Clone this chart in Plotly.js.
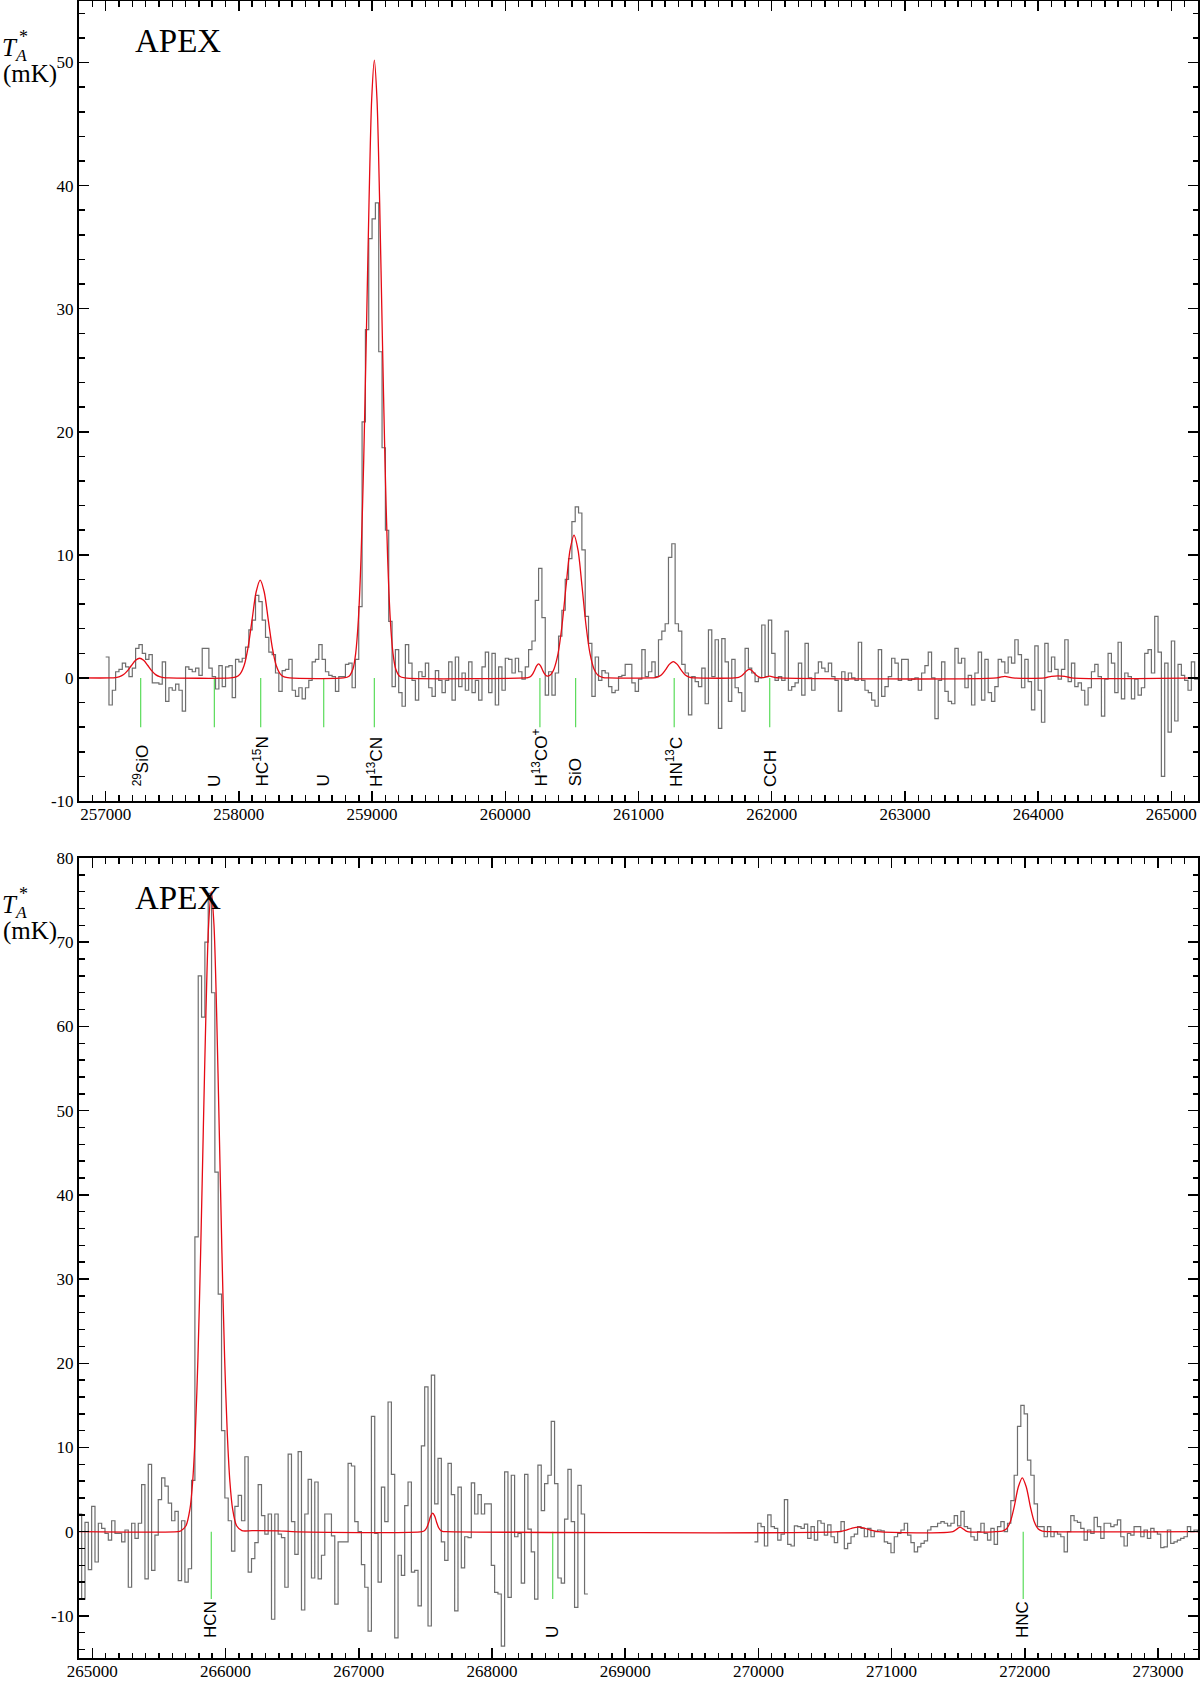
<!DOCTYPE html>
<html><head><meta charset="utf-8">
<script src="https://cdn.plot.ly/plotly-3.0.1.min.js"></script>
<style>body{margin:0;background:#fff}#chart{width:1200px;height:1682px}</style>
</head><body><div id="chart"></div>
<script>
// ---------------- DATA ----------------
const chanWidth = 25; // MHz per channel
// Upper panel spectrum (257000 - 265200 MHz)
const topStart = 257000;
const topValues = [
 1.7,-2.2,-1.0,0.5,0.7,1.2,0.9,0.1,0.8,2.4,
 2.7,2.0,1.5,1.9,-0.4,-0.4,-0.5,1.3,-1.9,-0.8,
 -1.0,-0.5,-1.0,-2.7,0.9,0.7,0.5,0.8,0.2,2.4,
 2.4,0.8,0.1,-0.9,1.0,-0.7,0.9,1.0,-1.6,1.5,
 1.3,1.6,2.5,3.9,4.7,6.7,6.2,4.7,3.3,2.1,
 1.9,0.4,-1.1,0.6,0.7,1.5,-1.0,-1.5,-0.8,-1.7,
 -0.8,-0.2,1.3,1.5,2.7,1.5,0.5,0.2,0.1,-1.1,
 0.1,0.1,1.1,1.2,-0.8,1.5,5.8,20.8,28.3,35.7,
 37.3,38.6,26.5,18.7,12.0,4.6,-0.7,2.3,-1.2,-2.3,
 2.7,1.2,-0.2,-1.8,0.5,0.1,1.2,-0.8,-1.5,0.6,
 -0.2,-1.2,-0.2,1.3,-1.8,1.7,-0.7,0.4,-1.0,1.3,
 -1.2,-0.2,-1.8,0.9,2.1,-1.2,2.0,-2.2,0.9,-1.0,
 1.6,1.5,0.4,1.6,0.5,-0.1,0.9,2.3,3.0,6.3,
 8.9,4.9,-1.4,0.5,-1.4,0.4,3.4,5.5,8.0,9.7,
 12.7,13.9,13.4,10.4,5.0,2.8,-1.5,1.7,-0.2,0.6,
 0.4,-0.7,-1.2,-1.0,0.1,0.2,1.1,1.1,-0.4,-1.1,
 -0.1,2.3,0.1,0.5,1.3,0.1,3.1,3.8,4.4,9.8,
 10.9,4.4,3.8,1.1,0.4,-3.0,0.1,-0.3,-0.7,0.8,
 -2.1,3.9,0.1,3.1,-4.1,3.2,1.3,-1.9,1.5,-0.8,
 -1.2,-2.7,2.4,0.8,0.4,-0.3,0.0,4.3,0.1,4.7,
 2.0,-0.2,0.1,-0.2,3.8,-1.0,-0.7,-0.4,1.2,-1.4,
 2.8,0.0,-1.0,0.4,1.3,0.8,0.5,1.2,0.1,-0.2,
 -2.7,0.5,-0.2,0.4,0.0,-0.2,2.9,-0.2,-1.0,-1.2,
 -1.8,-2.3,2.3,-1.5,-0.7,0.1,1.6,1.2,-0.2,1.5,
 1.5,-0.2,-0.1,0.0,-1.0,0.4,1.0,2.1,0.0,-3.3,
 -0.2,1.3,-1.1,-1.9,-2.1,2.4,1.2,1.6,-0.8,0.2,
 -2.2,0.4,2.1,-1.8,1.5,-1.2,-1.9,-0.7,1.5,1.3,
 0.4,1.7,1.2,3.1,1.9,-0.8,1.5,-0.3,-2.6,2.6,
 -1.0,-3.6,2.8,0.5,1.7,0.7,-0.1,0.7,3.1,-0.3,
 1.2,-0.7,-0.4,-1.0,-2.2,-0.8,0.5,1.1,0.1,-3.1,
 -0.1,2.0,1.2,-1.2,2.9,-1.7,0.4,0.1,-1.7,-0.1,
 -1.4,-0.8,2.0,2.3,0.4,5.0,2.1,-8.0,1.2,-4.4,
 3.0,-3.5,1.1,0.2,-0.2,-1.0,1.3,-0.1
];
// Lower panel spectrum, first part (264895 - 268720 MHz)
const botLowStart = 264895;
const botLowValues = [
 2.1,-8.0,1.1,-4.5,3.0,-3.6,1.0,0.4,-0.2,-1.0,
 1.3,-0.2,-0.2,-1.2,0.2,-6.6,1.0,-0.8,1.0,5.6,
 -5.6,8.0,-4.6,-0.4,3.8,6.4,5.4,3.4,1.3,2.4,
 -5.8,1.3,-6.0,-4.4,6.1,35.0,66.0,61.1,70.0,75.8,
 64.0,42.7,28.2,12.0,4.0,1.3,-2.3,3.0,4.3,1.3,
 8.9,-4.8,-3.2,-1.3,5.6,1.9,-0.3,2.1,-10.4,2.1,
 -0.3,-0.7,-6.6,9.2,1.2,-2.7,9.5,-9.3,2.1,6.2,
 -5.5,5.9,-5.6,-2.8,2.1,2.1,-0.5,-8.6,-1.2,-1.2,
 -1.2,8.1,7.8,1.2,0.0,-3.9,-6.6,-11.8,13.7,-0.2,
 -6.0,5.3,1.2,15.4,6.8,-12.6,-2.8,-5.2,3.1,5.9,
 -4.8,-4.6,-8.8,10.2,17.2,-11.2,18.6,3.3,8.7,-1.2,
 -3.4,8.1,4.4,-9.4,5.3,-4.3,-0.6,-0.7,5.8,2.1,
 4.4,2.1,3.3,3.3,-4.0,-7.2,-7.4,-13.6,7.1,-7.8,
 6.7,-0.6,-0.2,-6.1,6.8,0.3,-2.4,-8.0,7.9,2.5,
 5.7,6.7,13.1,5.7,-5.5,-6.1,1.5,7.4,1.2,-9.0,
 5.5,2.1,-7.4
];
// Lower panel spectrum, second part (269970 - 273320 MHz)
const botHighStart = 269970;
const botHighValues = [
 -1.2,1.0,0.6,-1.7,2.0,0.6,0.4,-1.0,-0.3,3.8,
 -1.5,-1.7,0.7,0.6,0.4,0.9,-0.8,0.6,-1.0,1.3,
 1.0,-0.4,0.8,-0.6,-1.3,0.0,1.2,-2.0,-1.4,-0.6,
 -0.3,0.6,0.4,-0.6,0.4,-0.6,0.0,0.2,0.1,-1.2,
 -1.4,-2.5,-0.6,-0.2,0.2,1.0,-0.4,-1.3,-2.4,-1.8,
 -1.4,-1.1,0.2,0.6,0.6,1.0,1.2,1.0,0.7,1.0,
 1.9,0.7,2.4,0.6,0.4,-0.6,-1.0,0.0,1.0,-0.2,
 -1.0,0.4,-1.5,0.6,1.2,0.0,1.0,3.7,6.7,12.5,
 15.0,14.0,8.5,6.7,3.3,0.6,0.6,-0.6,0.6,-0.6,
 0.0,-0.3,-0.6,-2.4,0.0,1.9,1.3,1.1,0.4,-1.0,
 0.2,-0.2,1.7,0.6,-0.8,1.0,1.0,0.6,0.8,1.4,
 -0.6,-1.7,-0.2,-0.4,0.6,0.6,-0.6,0.2,-0.8,0.4,
 0.0,-0.3,-1.9,-1.8,0.2,-1.4,-1.2,-1.0,-0.8,-0.6,
 0.6,0.0,0.2,0.0
];

// Model (red) curves
const topModelFreq = [256800,257035,257075,257105,257135,257165,257195,257225,257255,257285,257315,257345,257375,257405,257435,257475,
 257940,257980,258010,258040,258070,258100,258130,258160,258190,258220,258250,258280,258310,258340,258380,
 258787,258827,258857,258877,258897,258917,258937,258957,258977,258997,259017,259037,259057,259077,259097,259117,259137,259157,259177,259207,259247,
 260150,260170,260190,260205,260220,260235,260250,260265,260280,260295,260310,260330,260346,260366,260396,260426,260456,260486,260516,260546,260576,260606,260636,260666,260696,260736,260776,
 261091,261111,261141,261171,261201,261231,261261,261291,261321,261351,261381,261411,261431,
 261722,261752,261772,261792,261812,261832,261852,261872,261892,261912,261940,261985,262020,262060,
 263690,263750,263810,264050,264100,264150,264200,264250,265200];
const topModelVal = [0,0,0.03,0.10,0.27,0.59,1.03,1.43,1.60,1.43,1.03,0.59,0.27,0.10,0.03,0,
 0,0.08,0.33,1.03,2.53,4.78,7.00,7.95,7.00,4.78,2.53,1.03,0.33,0.08,0,
 0,0.14,0.75,2.0,4.7,9.7,17.6,27.8,38.6,47.0,50.2,47.0,38.6,27.8,17.6,9.7,4.7,2.0,0.75,0.14,0,
 0,0.02,0.11,0.30,0.63,0.98,1.14,0.98,0.63,0.33,0.17,0.18,0.33,0.73,1.97,4.28,7.45,10.38,11.6,10.38,7.45,4.28,1.97,0.73,0.21,0.03,0,
 0,0.01,0.07,0.24,0.63,1.10,1.33,1.10,0.63,0.24,0.07,0.01,0,
 0,0.04,0.15,0.35,0.59,0.70,0.59,0.35,0.15,0.04,0.03,0.15,0.05,0,
 0,0.13,0,0,0.13,0.16,0.13,0,0];
const botModelFreq = [264900,265643,265663,265703,265733,265753,265773,265793,265813,265833,265853,265873,265893,265913,265933,265953,265973,265993,266013,266033,266053,266083,266123,266200,266400,266500,
 267475,267495,267510,267525,267540,267555,267570,267585,267600,267615,267635,267655,
 270600,270650,270700,270750,270800,270850,270900,271460,271490,271513,271540,271570,
 271781,271831,271861,271891,271921,271951,271981,272011,272041,272071,272101,272131,272181,273300];
const botModelVal = [0,0,0.08,0.70,2.7,5.9,11.7,20.7,33.1,47.6,61.7,72.1,76.0,72.1,61.7,47.6,33.1,20.7,11.7,5.9,2.7,0.70,0.12,0.12,0.10,0,
 0,0.14,0.46,1.10,1.85,2.2,1.85,1.10,0.46,0.14,0.02,0,
 0,0.15,0.40,0.55,0.40,0.15,0,0,0.30,0.55,0.30,0,
 0,0.06,0.31,1.17,3.01,5.30,6.40,5.30,3.01,1.17,0.31,0.06,0,0];

// Line identifications
const topLineFreq = [257263,257816,258164,258637,259017,260260,260528,261268,261985];
const topLineLabels = ['<sup>29</sup>SiO','U','HC<sup>15</sup>N','U','H<sup>13</sup>CN','H<sup>13</sup>CO<sup>+</sup>','SiO','HN<sup>13</sup>C','CCH'];
const botLineFreq = [265893,268456,271988];
const botLineLabels = ['HCN','U','HNC'];

// Axis ticks
const topYTicks = [-10,0,10,20,30,40,50];
const botYTicks = [-10,0,10,20,30,40,50,60,70,80];

const topXRange = [256800, 265200], topYRange = [-10, 55];
const botXRange = [264900, 273300], botYRange = [-15, 80];
const topTickDepth = -4, botTickDepth = -8;
const topLabelY = -9.0, botLabelY = -12.9;

// ---------------- BUILD ----------------
function steps(start, vals){
  const x=[], y=[];
  vals.forEach((v,i)=>{ x.push(start+i*chanWidth); y.push(v); });
  x.push(start+vals.length*chanWidth); y.push(vals[vals.length-1]);
  return {x, y};
}
function markers(freqs, depth){
  const x=[], y=[];
  freqs.forEach(f=>{ x.push(f,f,null); y.push(0,depth,null); });
  return {x, y};
}
const GRAY='rgb(110,110,110)', RED='rgb(230,10,20)', GREEN='rgb(90,220,90)';
const s1 = steps(topStart, topValues);
const s2 = steps(botLowStart, botLowValues);
const s3 = steps(botHighStart, botHighValues);
const m1 = markers(topLineFreq, topTickDepth);
const m2 = markers(botLineFreq, botTickDepth);

const traces = [
  {x:s1.x, y:s1.y, xaxis:'x', yaxis:'y', mode:'lines', line:{shape:'hv', color:GRAY, width:1.2}, hoverinfo:'skip'},
  {x:s2.x, y:s2.y, xaxis:'x2', yaxis:'y2', mode:'lines', line:{shape:'hv', color:GRAY, width:1.2}, hoverinfo:'skip'},
  {x:s3.x, y:s3.y, xaxis:'x2', yaxis:'y2', mode:'lines', line:{shape:'hv', color:GRAY, width:1.2}, hoverinfo:'skip'},
  {x:m1.x, y:m1.y, xaxis:'x', yaxis:'y', mode:'lines', line:{color:GREEN, width:1.2}, connectgaps:false},
  {x:m2.x, y:m2.y, xaxis:'x2', yaxis:'y2', mode:'lines', line:{color:GREEN, width:1.2}, connectgaps:false},
  {x:topModelFreq, y:topModelVal, xaxis:'x', yaxis:'y', mode:'lines', line:{shape:'spline', smoothing:0.8, color:RED, width:1.3}},
  {x:botModelFreq, y:botModelVal, xaxis:'x2', yaxis:'y2', mode:'lines', line:{shape:'spline', smoothing:0.8, color:RED, width:1.3}}
];

const serif = 'Liberation Serif';
const sans = 'Liberation Sans';
function xax(range, anchor){
  return {range, anchor, showgrid:false, zeroline:false, showline:true, linecolor:'black', linewidth:2, mirror:'ticks',
    ticks:'inside', ticklen:10, tickwidth:1.5, tickcolor:'black', dtick:1000, tick0:0, tickformat:'d',
    ticklabelstandoff:-3, tickfont:{family:serif, size:17, color:'black'},
    minor:{dtick:100, ticks:'inside', ticklen:5.5, tickwidth:1.5, tickcolor:'black'}};
}
function yax(range, domain, anchor, ticks){
  return {range, domain, anchor, showgrid:false, zeroline:false, showline:true, linecolor:'black', linewidth:2, mirror:'ticks',
    ticks:'inside', ticklen:10, tickwidth:1.5, tickcolor:'black',
    tickmode:'array', tickvals:ticks, ticktext:ticks.map(v=>String(v)),
    ticklabelstandoff:0, tickfont:{family:serif, size:17, color:'black'},
    minor:{dtick:2, tick0:0, ticks:'inside', ticklen:5.5, tickwidth:1.5, tickcolor:'black'}};
}

const annotations = [];
function panelText(xr, yr){
  annotations.push({xref:xr, yref:yr, x:0, y:1, xanchor:'left', yanchor:'top', xshift:54, yshift:-20, showarrow:false,
    text:'APEX', font:{family:serif, size:33, color:'black'}});
  annotations.push({xref:xr, yref:yr, x:0, y:1, xanchor:'left', yanchor:'top', xshift:-79, yshift:-31, showarrow:false,
    text:'<i>T</i><sub><i>A</i></sub>', font:{family:serif, size:25, color:'black'}});
  annotations.push({xref:xr, yref:yr, x:0, y:1, xanchor:'left', yanchor:'top', xshift:-62, yshift:-24, showarrow:false,
    text:'*', font:{family:serif, size:18, color:'black'}});
  annotations.push({xref:xr, yref:yr, x:0, y:1, xanchor:'left', yanchor:'top', xshift:-78, yshift:-57, showarrow:false,
    text:'(mK)', font:{family:serif, size:25, color:'black'}});
}
panelText('x domain','y domain');
panelText('x2 domain','y2 domain');
topLineFreq.forEach((f,i)=>annotations.push({xref:'x', yref:'y', x:f, y:topLabelY, xanchor:'center', yanchor:'bottom',
  textangle:-90, showarrow:false, text:topLineLabels[i], font:{family:sans, size:17, color:'black'}}));
botLineFreq.forEach((f,i)=>annotations.push({xref:'x2', yref:'y2', x:f, y:botLabelY, xanchor:'center', yanchor:'bottom',
  textangle:-90, showarrow:false, text:botLineLabels[i], font:{family:sans, size:17, color:'black'}}));

const layout = {
  width:1200, height:1682, showlegend:false,
  font:{family:serif, size:17, color:'black'},
  margin:{l:79, r:2, t:1, b:24, pad:0},
  paper_bgcolor:'white', plot_bgcolor:'white',
  xaxis: xax(topXRange, 'y'),
  yaxis: yax(topYRange, [0.5172, 1], 'x', topYTicks),
  xaxis2: xax(botXRange, 'y2'),
  yaxis2: yax(botYRange, [0, 0.4828], 'x2', botYTicks),
  annotations
};
Plotly.newPlot('chart', traces, layout, {staticPlot:true, displayModeBar:false});
</script>
</body></html>
